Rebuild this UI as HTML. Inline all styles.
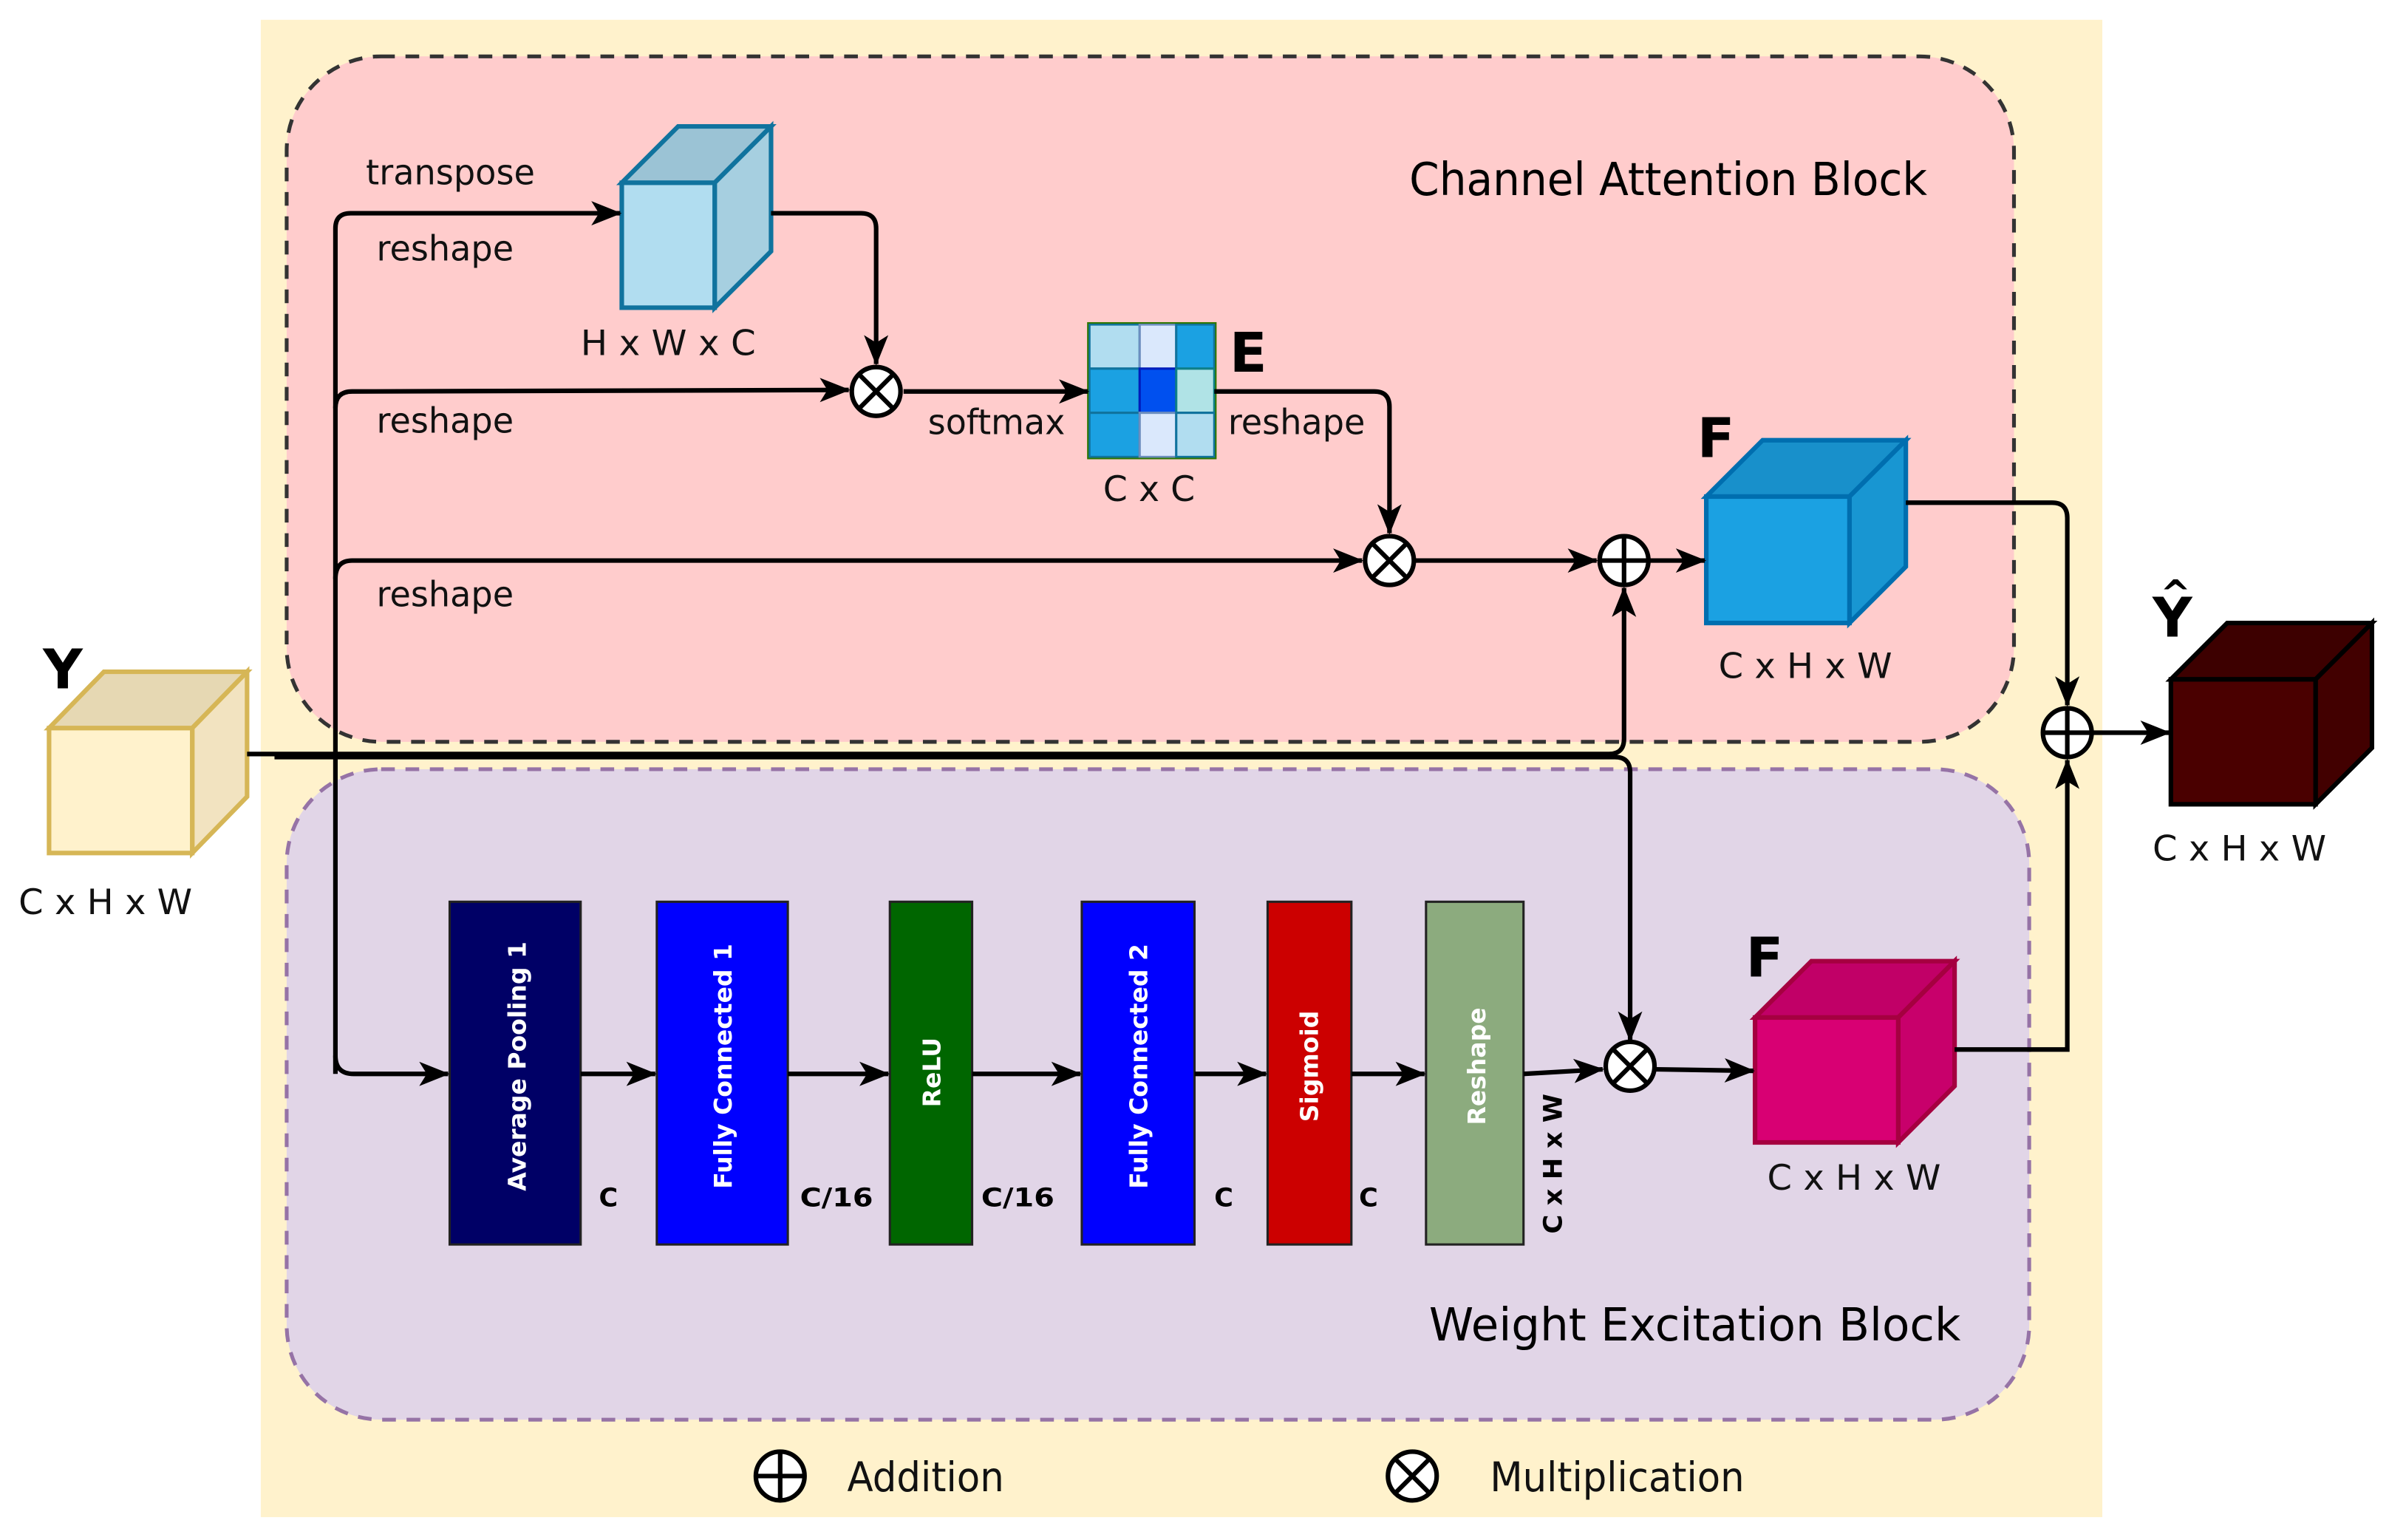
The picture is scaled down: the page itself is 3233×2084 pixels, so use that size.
<!DOCTYPE html>
<html><head><meta charset="utf-8">
<style>
html,body{margin:0;padding:0;background:#fff;}
svg{display:block;}
text{font-family:"DejaVu Sans","Liberation Sans",sans-serif;}
</style></head>
<body>
<svg width="3233" height="2084" viewBox="0 0 1568 1011" xmlns="http://www.w3.org/2000/svg">
<defs>
<marker id="a" viewBox="0 0 20 16" refX="19" refY="8" markerWidth="20" markerHeight="16" orient="auto" markerUnits="userSpaceOnUse">
<path d="M0,0 L20,8 L0,16 L5,8 Z" fill="#000"/>
</marker>
</defs>
<rect x="171" y="13" width="1209" height="983" fill="#fff2cc"/>
<rect x="188" y="37" width="1134" height="450" rx="62" fill="#ffcccc" stroke="#333" stroke-width="2.5" stroke-dasharray="9,7"/>
<rect x="188" y="505" width="1144" height="427" rx="62" fill="#e1d5e7" stroke="#9673a6" stroke-width="2.5" stroke-dasharray="9,7"/>

<text x="925" y="128" font-size="30" textLength="340" lengthAdjust="spacingAndGlyphs">Channel Attention Block</text>
<text x="938" y="880" font-size="30" textLength="349" lengthAdjust="spacingAndGlyphs">Weight Excitation Block</text>

<g stroke-width="3" stroke-linejoin="miter">
<g stroke="#d6b656"><polygon points="32,478 68,441 162,441 126,478" fill="#e6d8b3"/><polygon points="126,478 162,441 162,523 126,560" fill="#f2e3c0"/><rect x="32" y="478" width="94" height="82" fill="#fff2cc"/></g>
<g stroke="#10739e"><polygon points="408,120 445,83 506,83 469,120" fill="#9bc3d5"/><polygon points="469,120 506,83 506,165 469,202" fill="#a6cfe0"/><rect x="408" y="120" width="61" height="82" fill="#b1ddf0"/></g>
<g stroke="#006eaf"><polygon points="1120,326 1157,289 1251,289 1214,326" fill="#1890cb"/><polygon points="1214,326 1251,289 1251,372 1214,409" fill="#1896d2"/><rect x="1120" y="326" width="94" height="83" fill="#1ba1e2"/></g>
<g stroke="#000"><polygon points="1425,446 1462,409 1557,409 1520,446" fill="#3d0000"/><polygon points="1520,446 1557,409 1557,491 1520,528" fill="#420000"/><rect x="1425" y="446" width="95" height="82" fill="#4a0000"/></g>
<g stroke="#a50040"><polygon points="1152,668 1189,631 1283,631 1246,668" fill="#c10067"/><polygon points="1246,668 1283,631 1283,713 1246,750" fill="#c8006b"/><rect x="1152" y="668" width="94" height="82" fill="#d80073"/></g>
</g>

<g stroke="#10739e" stroke-width="1.5">
<rect x="715" y="213" width="33" height="29" fill="#b1ddf0"/>
<rect x="748" y="213" width="24" height="29" fill="#dae8fc" stroke="#6c8ebf"/>
<rect x="772" y="213" width="25" height="29" fill="#1ba1e2"/>
<rect x="715" y="242" width="33" height="29" fill="#1ba1e2"/>
<rect x="748" y="242" width="24" height="29" fill="#0050ef" stroke="#001dbc"/>
<rect x="772" y="242" width="25" height="29" fill="#b0e3e6" stroke="#0e8088"/>
<rect x="715" y="271" width="33" height="29" fill="#1ba1e2"/>
<rect x="748" y="271" width="24" height="29" fill="#dae8fc" stroke="#6c8ebf"/>
<rect x="772" y="271" width="25" height="29" fill="#b1ddf0"/>
<rect x="714" y="212" width="84" height="89" fill="none" stroke="#2d7600" stroke-width="1"/>
</g>

<g stroke="#222" stroke-width="1.5">
<rect x="295" y="592" width="86" height="225" fill="#000066"/>
<rect x="431" y="592" width="86" height="225" fill="#0000ff"/>
<rect x="584" y="592" width="54" height="225" fill="#006600"/>
<rect x="710" y="592" width="74" height="225" fill="#0000ff"/>
<rect x="832" y="592" width="55" height="225" fill="#cc0000"/>
<rect x="936" y="592" width="64" height="225" fill="#8cab7e"/>
</g>
<g fill="#fff" font-weight="bold" font-size="16" text-anchor="middle">
<text transform="translate(345,700) rotate(-90)">Average Pooling 1</text>
<text transform="translate(480,700) rotate(-90)">Fully Connected 1</text>
<text transform="translate(617,704) rotate(-90)">ReLU</text>
<text transform="translate(753,700) rotate(-90)">Fully Connected 2</text>
<text transform="translate(865,700) rotate(-90)">Sigmoid</text>
<text transform="translate(975,700) rotate(-90)">Reshape</text>
</g>
<g font-weight="bold" font-size="17">
<text x="393" y="792">C</text>
<text x="525" y="792" textLength="48" lengthAdjust="spacingAndGlyphs">C/16</text>
<text x="644" y="792" textLength="48" lengthAdjust="spacingAndGlyphs">C/16</text>
<text x="797" y="792">C</text>
<text x="892" y="792">C</text>
<text transform="translate(1025,810) rotate(-90)" textLength="92" lengthAdjust="spacingAndGlyphs">C x H x W</text>
</g>

<g fill="none" stroke="#000" stroke-width="3">
<path d="M162,495 L1056,495 Q1066,495 1066,485 L1066,386" marker-end="url(#a)"/>
<path d="M180,497 L1060,497 Q1070,497 1070,507 L1070,683" marker-end="url(#a)"/>
<path d="M220,705 L220,150 Q220,140 230,140 L407,140" marker-end="url(#a)"/>
<path d="M220,693 Q220,705 232,705 L294,705" marker-end="url(#a)"/>
<path d="M220,268 Q220,257 231,257 L557,256" marker-end="url(#a)"/>
<path d="M220,380 Q220,368 231,368 L894,368" marker-end="url(#a)"/>
<path d="M506,140 L565,140 Q575,140 575,150 L575,239" marker-end="url(#a)"/>
<path d="M593,257 L714,257" marker-end="url(#a)"/>
<path d="M797,257 L902,257 Q912,257 912,267 L912,350" marker-end="url(#a)"/>
<path d="M929,368 L1048,368" marker-end="url(#a)"/>
<path d="M1083,368 L1119,368" marker-end="url(#a)"/>
<path d="M1251,330 L1347,330 Q1357,330 1357,340 L1357,463" marker-end="url(#a)"/>
<path d="M1283,689 L1357,689 L1357,499" marker-end="url(#a)"/>
<path d="M1374,481 L1424,481" marker-end="url(#a)"/>
<path d="M381,705 L430,705" marker-end="url(#a)"/>
<path d="M517,705 L583,705" marker-end="url(#a)"/>
<path d="M638,705 L709,705" marker-end="url(#a)"/>
<path d="M784,705 L831,705" marker-end="url(#a)"/>
<path d="M887,705 L935,705" marker-end="url(#a)"/>
<path d="M1000,705 L1052,702" marker-end="url(#a)"/>
<path d="M1087,702 L1151,703" marker-end="url(#a)"/>
</g>

<g fill="#fff" stroke="#000" stroke-width="3">
<g transform="translate(575,257)"><circle r="16"/><path d="M-11,-11 L11,11 M11,-11 L-11,11"/></g>
<g transform="translate(912,368)"><circle r="16"/><path d="M-11,-11 L11,11 M11,-11 L-11,11"/></g>
<g transform="translate(1070,700)"><circle r="16"/><path d="M-11,-11 L11,11 M11,-11 L-11,11"/></g>
<g transform="translate(927,969)"><circle r="16"/><path d="M-11,-11 L11,11 M11,-11 L-11,11"/></g>
<g transform="translate(1066,368)"><circle r="16"/><path d="M-16,0 L16,0 M0,-16 L0,16"/></g>
<g transform="translate(1357,481)"><circle r="16"/><path d="M-16,0 L16,0 M0,-16 L0,16"/></g>
<g transform="translate(512,969)"><circle r="16"/><path d="M-16,0 L16,0 M0,-16 L0,16"/></g>
</g>

<g font-size="23" fill="#111">
<text x="240" y="121" textLength="111" lengthAdjust="spacingAndGlyphs">transpose</text>
<text x="247" y="171" textLength="90" lengthAdjust="spacingAndGlyphs">reshape</text>
<text x="247" y="284" textLength="90" lengthAdjust="spacingAndGlyphs">reshape</text>
<text x="247" y="398" textLength="90" lengthAdjust="spacingAndGlyphs">reshape</text>
<text x="609" y="285" textLength="90" lengthAdjust="spacingAndGlyphs">softmax</text>
<text x="806" y="285" textLength="90" lengthAdjust="spacingAndGlyphs">reshape</text>
<text x="381" y="233" textLength="115" lengthAdjust="spacingAndGlyphs">H x W x C</text>
<text x="724" y="329">C x C</text>
<text x="1128" y="445" textLength="114" lengthAdjust="spacingAndGlyphs">C x H x W</text>
<text x="12" y="600" textLength="114" lengthAdjust="spacingAndGlyphs">C x H x W</text>
<text x="1413" y="565" textLength="114" lengthAdjust="spacingAndGlyphs">C x H x W</text>
<text x="1160" y="781" textLength="114" lengthAdjust="spacingAndGlyphs">C x H x W</text>
</g>
<g font-size="27" fill="#111">
<text x="556" y="979" textLength="103" lengthAdjust="spacingAndGlyphs">Addition</text>
<text x="978" y="979" textLength="167" lengthAdjust="spacingAndGlyphs">Multiplication</text>
</g>
<g font-weight="bold" font-size="36" fill="#000">
<text x="28" y="452">Y</text>
<text x="807" y="244">E</text>
<text x="1114" y="300">F</text>
<text x="1146" y="641">F</text>
<text x="1413" y="418">Y</text>
<text x="1418" y="398" font-size="24">^</text>
</g>
</svg>
</body></html>
